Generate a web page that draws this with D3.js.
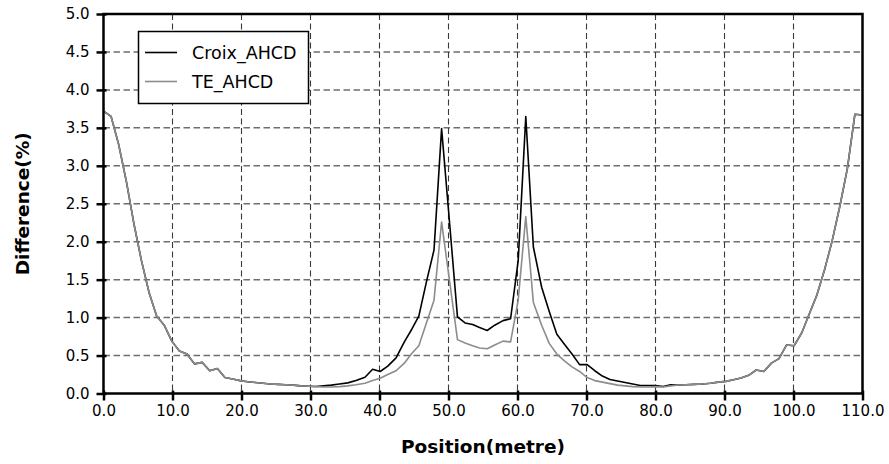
<!DOCTYPE html>
<html>
<head>
<meta charset="utf-8">
<script src="https://cdn.jsdelivr.net/npm/d3@7"></script>
<style>
  html, body { margin: 0; padding: 0; background: #fff; }
  svg { display: block; font-family: "DejaVu Sans", Verdana, sans-serif; }
</style>
</head>
<body>
<svg id="chart" width="889" height="464"></svg>
<script>
// ---- Data ----
const positions = [0,1.1,2.2,3.3,4.4,5.5,6.6,7.7,8.8,9.9,11.0,12.1,13.2,14.3,15.4,16.5,17.6,18.7,19.8,20.9,22.0,23.1,24.2,25.3,26.4,27.5,28.6,29.7,
  30.8,31.9,33.0,34.2,35.4,36.6,37.9,39.0,40.1,41.2,42.4,43.6,44.7,45.7,46.8,47.9,49.0,50.2,51.3,52.4,53.5,54.5,55.6,56.7,57.9,59.0,60.1,61.2,62.3,63.5,64.6,65.7,66.8,67.9,69.0,70.1,71.2,72.3,73.4,74.5,75.6,76.7,77.8,78.9,80.0,81.1,82.2,
  83.3,84.4,85.6,86.8,88.0,89.1,90.2,91.3,92.4,93.5,94.6,95.7,96.8,97.9,99.0,100.1,101.2,102.3,103.4,104.5,105.6,106.7,107.8,108.9,110.0];

const croixAHCD = [3.72,3.65,3.28,2.80,2.24,1.75,1.33,1.02,0.90,0.69,0.56,0.52,0.39,0.41,0.30,0.33,0.21,0.19,0.17,0.155,0.145,0.135,0.125,0.12,0.115,0.11,0.10,0.095,
  0.092,0.10,0.11,0.125,0.14,0.17,0.215,0.32,0.29,0.36,0.47,0.68,0.85,1.02,1.47,1.89,3.49,2.20,1.01,0.93,0.91,0.87,0.83,0.90,0.96,0.985,1.75,3.65,1.93,1.40,1.08,0.78,0.65,0.52,0.38,0.38,0.30,0.23,0.185,0.165,0.145,0.125,0.105,0.105,0.105,0.092,0.115,
  0.112,0.115,0.12,0.125,0.135,0.15,0.16,0.18,0.205,0.24,0.31,0.29,0.40,0.46,0.64,0.63,0.80,1.05,1.30,1.63,2.01,2.46,2.96,3.68,3.67];

const teAHCD = [3.72,3.65,3.28,2.80,2.24,1.75,1.33,1.02,0.90,0.69,0.56,0.52,0.39,0.41,0.30,0.33,0.21,0.19,0.17,0.155,0.145,0.135,0.125,0.12,0.115,0.11,0.10,0.095,
  0.09,0.085,0.085,0.09,0.10,0.115,0.135,0.17,0.20,0.25,0.30,0.40,0.53,0.63,0.93,1.23,2.26,1.45,0.71,0.665,0.63,0.60,0.59,0.64,0.69,0.68,1.23,2.33,1.20,0.90,0.66,0.52,0.43,0.35,0.29,0.21,0.17,0.15,0.13,0.11,0.10,0.09,0.085,0.085,0.09,0.085,0.10,
  0.112,0.115,0.12,0.125,0.135,0.15,0.16,0.18,0.205,0.24,0.31,0.29,0.40,0.46,0.64,0.63,0.80,1.05,1.30,1.63,2.01,2.46,2.96,3.68,3.67];

const seriesNames = ["Croix_AHCD", "TE_AHCD"];
const seriesColors = ["#000000", "#8c8c8c"];
const xTickValues = [0,10,20,30,40,50,60,70,80,90,100,110];
const yTickValues = [0,0.5,1.0,1.5,2.0,2.5,3.0,3.5,4.0,4.5,5.0];
const xTitle = "Position(metre)";
const yTitle = "Difference(%)";

// ---- Layout ----
const svg = d3.select("#chart");
const pL = 103.5, pR = 862.5, pT = 14, pB = 393.5;
const x = d3.scaleLinear().domain([0, 110]).range([pL, pR]);
const y = d3.scaleLinear().domain([0, 5]).range([pB, pT]);
const fmt = d3.format(".1f");

// Grid
const grid = svg.append("g");
grid.selectAll("line.h").data(yTickValues.filter(v => v > 0 && v < 5)).join("line")
  .attr("class", "h")
  .attr("x1", pL).attr("x2", pR)
  .attr("y1", d => y(d)).attr("y2", d => y(d))
  .attr("stroke", "#6e6e6e").attr("stroke-width", 1.5)
  .attr("stroke-dasharray", "6.5,3.5");
grid.selectAll("line.v").data(xTickValues.filter(v => v > 0 && v < 110)).join("line")
  .attr("class", "v")
  .attr("x1", d => x(d)).attr("x2", d => x(d))
  .attr("y1", pT).attr("y2", pB)
  .attr("stroke", "#3a3a3a").attr("stroke-width", 1.1)
  .attr("stroke-dasharray", "6,3.5");

// Lines
const data = [croixAHCD, teAHCD];
const line = d3.line().x((d, i) => x(positions[i])).y(d => y(d));
data.forEach((vals, k) => {
  svg.append("path").datum(vals)
    .attr("d", line)
    .attr("fill", "none")
    .attr("stroke", seriesColors[k])
    .attr("stroke-width", 1.6)
    .attr("stroke-linejoin", "round");
});

// Frame
svg.append("rect")
  .attr("x", pL).attr("y", pT)
  .attr("width", pR - pL).attr("height", pB - pT)
  .attr("fill", "none").attr("stroke", "#000").attr("stroke-width", 2.5);

// Axes
const yAxis = svg.append("g").attr("transform", `translate(${pL},0)`)
  .call(d3.axisLeft(y).tickValues(yTickValues).tickFormat(fmt).tickSizeOuter(0).tickSizeInner(7).tickPadding(7));
yAxis.select(".domain").remove();
yAxis.selectAll(".tick line").attr("x1", 3).attr("x2", -7).attr("stroke", "#000").attr("stroke-width", 2.5);
yAxis.selectAll(".tick text").attr("font-size", 15).attr("font-family", "DejaVu Sans, sans-serif").attr("fill", "#000");

const xAxis = svg.append("g").attr("transform", `translate(0,${pB})`)
  .call(d3.axisBottom(x).tickValues(xTickValues).tickFormat(fmt).tickSizeOuter(0).tickSizeInner(7).tickPadding(5));
xAxis.select(".domain").remove();
xAxis.selectAll(".tick line").attr("y1", -3).attr("y2", 7).attr("stroke", "#000").attr("stroke-width", 2.5);
xAxis.selectAll(".tick text").attr("font-size", 15).attr("font-family", "DejaVu Sans, sans-serif").attr("fill", "#000");

// Axis titles
svg.append("text")
  .attr("x", (pL + pR) / 2).attr("y", 453)
  .attr("text-anchor", "middle")
  .attr("font-weight", "bold").attr("font-size", 18.5)
  .text(xTitle);
svg.append("text")
  .attr("transform", `translate(29,${(pT + pB) / 2}) rotate(-90)`)
  .attr("text-anchor", "middle")
  .attr("font-weight", "bold").attr("font-size", 18.5)
  .text(yTitle);

// Legend
const legend = svg.append("g");
legend.append("rect")
  .attr("x", 138.5).attr("y", 31.5).attr("width", 170).attr("height", 72)
  .attr("fill", "#fff").attr("stroke", "#000").attr("stroke-width", 1.5);
seriesNames.forEach((name, k) => {
  const ly = 52.5 + k * 29;
  legend.append("line")
    .attr("x1", 145).attr("x2", 177).attr("y1", ly).attr("y2", ly)
    .attr("stroke", seriesColors[k]).attr("stroke-width", 1.6);
  legend.append("text")
    .attr("x", 192).attr("y", ly).attr("dy", "0.35em")
    .attr("font-size", 17.5)
    .text(name);
});
</script>
</body>
</html>
